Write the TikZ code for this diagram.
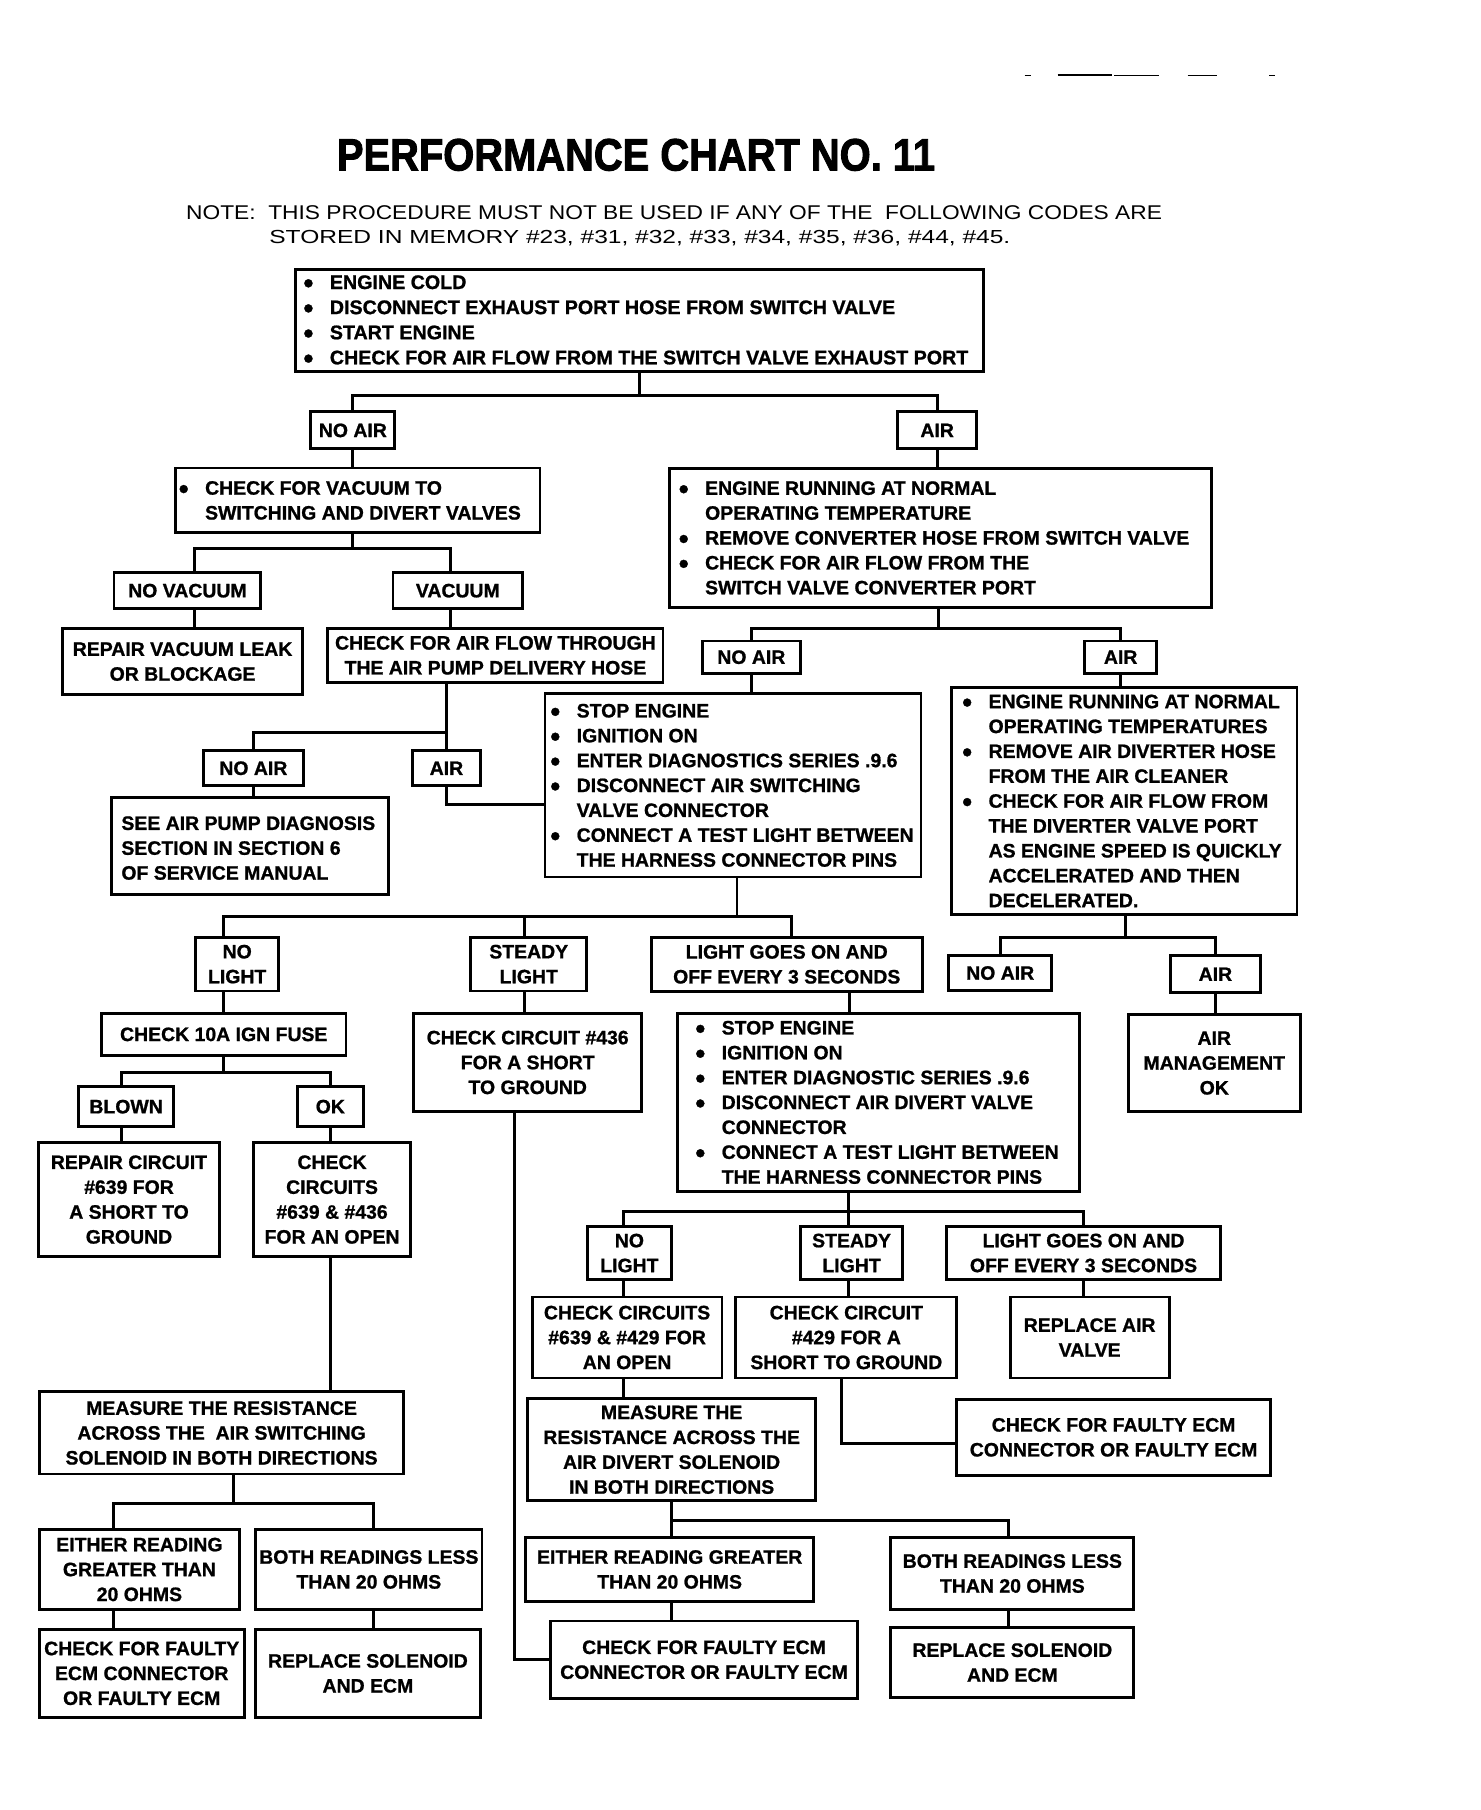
\documentclass[tikz,border=0pt]{standalone}
\usepackage{fontspec}
\setmainfont{Liberation Sans}[BoldFeatures={FakeBold=1.0}]
\newfontfamily\titlefont{Liberation Sans Bold}[FakeBold=2.2]
\usepackage{graphicx}
\newcommand\bxfont{\bfseries\fontsize{16.8}{21.5}\selectfont}
\newcommand\bl{\makebox[0pt][c]{\raisebox{-3.2pt}{\scalebox{1.45}{\textbullet}}}\hspace*{18.5pt}}
\newcommand\ind{\hspace*{18.5pt}}
\begin{document}
\begin{tikzpicture}[x=1pt,y=-1pt,
  bx/.style={draw, line width=2.5pt, inner sep=0pt, align=center, font=\bxfont},
  tx/.style={inner sep=0pt, align=left, font=\bxfont, anchor=west},
  ln/.style={line width=2.5pt},
  dsh/.style={line width=1.2pt}]
\useasboundingbox (0,0) rectangle (1280,1564.4);
% stray marks at top
\draw[dsh] (885.5,65) -- (891,65);
\draw[dsh,line width=1.6pt] (914,65) -- (961,65);
\draw[dsh] (963,65) -- (1002,65);
\draw[dsh] (1026.5,65) -- (1052,65);
\draw[dsh] (1097,65) -- (1102,65);
% title and note
\node[anchor=base west, inner sep=0pt] (title) at (291,147.3) {\resizebox{517pt}{27.3pt}{\titlefont PERFORMANCE CHART NO. 11}};
\node[anchor=base west, inner sep=0pt] (note1) at (160.7,189.4) {\resizebox{843.3pt}{12pt}{NOTE:\ \ THIS PROCEDURE MUST NOT BE USED IF ANY OF THE\ \ FOLLOWING CODES ARE}};
\node[anchor=base west, inner sep=0pt] (note2) at (232.6,210.3) {\resizebox{640.4pt}{11.4pt}{STORED IN MEMORY \#23, \#31, \#32, \#33, \#34, \#35, \#36, \#44, \#45.}};
% boxes
\node[bx, minimum width=594.9pt, minimum height=88pt] (B1) at (552.9,277) {};
\node[tx, font=\bfseries\fontsize{17}{21.7}\selectfont] (B1t) at ([xshift=12.2pt,yshift=-1pt]B1.west) {\bl ENGINE COLD\\ \bl DISCONNECT EXHAUST PORT HOSE FROM SWITCH VALVE\\ \bl START ENGINE\\ \bl CHECK FOR AIR FLOW FROM THE SWITCH VALVE EXHAUST PORT};
\node[bx, minimum width=72.6pt, minimum height=32pt] (nA1) at (305,372) {NO AIR};
\node[bx, minimum width=68.7pt, minimum height=32pt] (A1) at (810,372) {AIR};
\node[bx, minimum width=314.7pt, minimum height=56pt] (B2) at (309.4,432.5) {};
\node[tx] (B2t) at ([xshift=7.8pt]B2.west) {\bl CHECK FOR VACUUM TO\\ \ind SWITCHING AND DIVERT VALVES};
\node[bx, minimum width=127pt, minimum height=31.5pt] (nV) at (162,510.5) {NO VACUUM};
\node[bx, minimum width=112pt, minimum height=31.5pt] (V) at (395.7,510.5) {VACUUM};
\node[bx, minimum width=208pt, minimum height=57.5pt] (RV) at (157.8,571.8) {REPAIR VACUUM LEAK\\OR BLOCKAGE};
\node[bx, minimum width=289.6pt, minimum height=46.8pt] (CF) at (428.2,566.4) {CHECK FOR AIR FLOW THROUGH\\THE AIR PUMP DELIVERY HOSE};
\node[bx, minimum width=86pt, minimum height=30pt] (nA2) at (219,664) {NO AIR};
\node[bx, minimum width=58.1pt, minimum height=30pt] (A2) at (385.9,664) {AIR};
\node[bx, minimum width=239.4pt, minimum height=84pt] (SP) at (216.3,731) {};
\node[tx] (SPt) at ([xshift=9.4pt,yshift=-2pt]SP.west) {SEE AIR PUMP DIAGNOSIS\\SECTION IN SECTION 6\\OF SERVICE MANUAL};
\node[bx, minimum width=468pt, minimum height=120.3pt] (B3) at (813,464.9) {};
\node[tx] (B3t) at ([xshift=13pt]B3.west) {\bl ENGINE RUNNING AT NORMAL\\ \ind OPERATING TEMPERATURE\\ \bl REMOVE CONVERTER HOSE FROM SWITCH VALVE\\ \bl CHECK FOR AIR FLOW FROM THE\\ \ind SWITCH VALVE CONVERTER PORT};
\node[bx, minimum width=84.7pt, minimum height=28pt] (nA3) at (649.4,568) {NO AIR};
\node[bx, minimum width=62.2pt, minimum height=28pt] (A3) at (968.6,568) {AIR};
\node[bx, minimum width=325pt, minimum height=158.4pt] (B4) at (633.5,678.8) {};
\node[tx] (B4t) at ([xshift=10pt]B4.west) {\bl STOP ENGINE\\ \bl IGNITION ON\\ \bl ENTER DIAGNOSTICS SERIES .9.6\\ \bl DISCONNECT AIR SWITCHING\\ \ind VALVE CONNECTOR\\ \bl CONNECT A TEST LIGHT BETWEEN\\ \ind THE HARNESS CONNECTOR PINS};
\node[bx, minimum width=299pt, minimum height=196.5pt] (B5) at (971.5,692.3) {};
\node[tx] (B5t) at ([xshift=15pt]B5.west) {\bl ENGINE RUNNING AT NORMAL\\ \ind OPERATING TEMPERATURES\\ \bl REMOVE AIR DIVERTER HOSE\\ \ind FROM THE AIR CLEANER\\ \bl CHECK FOR AIR FLOW FROM\\ \ind THE DIVERTER VALVE PORT\\ \ind AS ENGINE SPEED IS QUICKLY\\ \ind ACCELERATED AND THEN\\ \ind DECELERATED.};
\node[bx, minimum width=89pt, minimum height=30pt] (nA4) at (864.5,841) {NO AIR};
\node[bx, minimum width=78pt, minimum height=32pt] (A4) at (1050.5,842) {AIR};
\node[bx, minimum width=149pt, minimum height=83.5pt] (AM) at (1049.5,918.8) {AIR\\MANAGEMENT\\OK};
\node[bx, minimum width=72pt, minimum height=46.5pt] (nL1) at (205,833.3) {NO\\LIGHT};
\node[bx, minimum width=100pt, minimum height=46.5pt] (sL1) at (457,833.3) {STEADY\\LIGHT};
\node[bx, minimum width=234pt, minimum height=47pt] (LG1) at (680,833.5) {LIGHT GOES ON AND\\OFF EVERY 3 SECONDS};
\node[bx, minimum width=211.3pt, minimum height=36pt] (F) at (193.4,894) {CHECK 10A IGN FUSE};
\node[bx, minimum width=82pt, minimum height=35pt] (bw) at (109,956.5) {BLOWN};
\node[bx, minimum width=57pt, minimum height=35pt] (ok) at (285.5,956.5) {OK};
\node[bx, minimum width=157pt, minimum height=98pt] (RC) at (111.5,1036.8) {REPAIR CIRCUIT\\\#639 FOR\\A SHORT TO\\GROUND};
\node[bx, minimum width=136pt, minimum height=98pt] (CC) at (287,1036.8) {CHECK\\CIRCUITS\\\#639 \& \#436\\FOR AN OPEN};
\node[bx, minimum width=315pt, minimum height=71pt] (M1) at (191.5,1238.5) {MEASURE THE RESISTANCE\\ACROSS THE\ \ AIR SWITCHING\\SOLENOID IN BOTH DIRECTIONS};
\node[bx, minimum width=173pt, minimum height=69pt] (E1) at (120.5,1356.5) {EITHER READING\\GREATER THAN\\20 OHMS};
\node[bx, minimum width=195.6pt, minimum height=69pt] (BL1) at (318.8,1356.5) {BOTH READINGS LESS\\THAN 20 OHMS};
\node[bx, minimum width=177pt, minimum height=75.5pt] (CE1) at (122.5,1446.3) {CHECK FOR FAULTY\\ECM CONNECTOR\\OR FAULTY ECM};
\node[bx, minimum width=194pt, minimum height=75.5pt] (RS1) at (318,1446.3) {REPLACE SOLENOID\\AND ECM};
\node[bx, minimum width=197pt, minimum height=84.5pt] (SC) at (456.1,918.3) {CHECK CIRCUIT \#436\\FOR A SHORT\\TO GROUND};
\node[bx, minimum width=347.5pt, minimum height=153.6pt] (B6) at (759.3,952.8) {};
\node[tx] (B6t) at ([xshift=20.8pt]B6.west) {\bl STOP ENGINE\\ \bl IGNITION ON\\ \bl ENTER DIAGNOSTIC SERIES .9.6\\ \bl DISCONNECT AIR DIVERT VALVE\\ \ind CONNECTOR\\ \bl CONNECT A TEST LIGHT BETWEEN\\ \ind THE HARNESS CONNECTOR PINS};
\node[bx, minimum width=72pt, minimum height=46pt] (nL2) at (544,1083) {NO\\LIGHT};
\node[bx, minimum width=88pt, minimum height=46pt] (sL2) at (736,1083) {STEADY\\LIGHT};
\node[bx, minimum width=237pt, minimum height=46pt] (LG2) at (936.5,1083) {LIGHT GOES ON AND\\OFF EVERY 3 SECONDS};
\node[bx, minimum width=164pt, minimum height=70pt] (CC2) at (542,1156) {CHECK CIRCUITS\\\#639 \& \#429 FOR\\AN OPEN};
\node[bx, minimum width=191pt, minimum height=70pt] (CC3) at (731.5,1156) {CHECK CIRCUIT\\\#429 FOR A\\SHORT TO GROUND};
\node[bx, minimum width=137.5pt, minimum height=70pt] (RA) at (941.8,1156) {REPLACE AIR\\VALVE};
\node[bx, minimum width=249pt, minimum height=88pt] (M2) at (580.5,1253) {MEASURE THE\\RESISTANCE ACROSS THE\\AIR DIVERT SOLENOID\\IN BOTH DIRECTIONS};
\node[bx, minimum width=271pt, minimum height=65.4pt] (CE3) at (962.5,1242.3) {CHECK FOR FAULTY ECM\\CONNECTOR OR FAULTY ECM};
\node[bx, minimum width=248.5pt, minimum height=55pt] (E2) at (578.8,1356.5) {EITHER READING GREATER\\THAN 20 OHMS};
\node[bx, minimum width=210pt, minimum height=62pt] (BL2) at (875,1360) {BOTH READINGS LESS\\THAN 20 OHMS};
\node[bx, minimum width=265pt, minimum height=67pt] (CE2) at (608.5,1434.5) {CHECK FOR FAULTY ECM\\CONNECTOR OR FAULTY ECM};
\node[bx, minimum width=210pt, minimum height=60pt] (RS2) at (875,1437) {REPLACE SOLENOID\\AND ECM};
% junctions and guides
\coordinate (j1) at (552.4,342);
\coordinate (j2) at (305,474);
\coordinate (g2) at (168.4,0);
\coordinate (g3) at (389.4,0);
\coordinate (j3) at (386,633);
\coordinate (j4) at (811,543.5);
\coordinate (j5) at (972.5,810.6);
\coordinate (j6) at (637,792);
\coordinate (j6b) at (453.4,792);
\coordinate (g8) at (684,0);
\coordinate (j7) at (193.4,927);
\coordinate (g9) at (105,0);
\coordinate (j8) at (202,1299.6);
\coordinate (g10) at (98,0);
\coordinate (g11) at (323,0);
\coordinate (g12) at (444.4,0);
\coordinate (g13) at (734,0);
\coordinate (j9) at (733,1047);
\coordinate (g14) at (539,0);
\coordinate (g15) at (727.5,0);
\coordinate (j10) at (580,1314);
\coordinate (g16) at (871.6,0);
% connectors
\draw[ln] (B1.south -| j1) -- (j1);
\draw[ln] (nA1.north) |- (j1) -| (A1.north);
\draw[ln] (nA1.south) -- (nA1.south |- B2.north);
\draw[ln] (B2.south -| j2) -- (j2);
\draw[ln] (nV.north -| g2) |- (j2) -| (V.north -| g3);
\draw[ln] (nV.south -| g2) -- (RV.north -| g2);
\draw[ln] (V.south -| g3) -- (CF.north -| g3);
\draw[ln] (CF.south -| j3) -- (A2.north -| j3);
\draw[ln] (nA2.north) |- (j3);
\draw[ln] (nA2.south) -- (nA2.south |- SP.north);
\draw[ln] (A2.south -| j3) |- ([yshift=-16.7pt]B4.west);
\draw[ln] (A1.south) -- (A1.south |- B3.north);
\draw[ln] (B3.south -| j4) -- (j4);
\draw[ln] (nA3.north) |- (j4) -| (A3.north);
\draw[ln] (nA3.south) -- (nA3.south |- B4.north);
\draw[ln] (A3.south) -- (A3.south |- B5.north);
\draw[ln] (B5.south -| j5) -- (j5);
\draw[ln] (nA4.north) |- (j5) -| (A4.north);
\draw[ln] (A4.south) -- (A4.south |- AM.north);
\draw[ln] (B4.south -| j6) -- (j6);
\draw[ln] (nL1.north -| F) |- (j6) -| (LG1.north -| g8);
\draw[ln] (sL1.north -| j6b) -- (j6b);
\draw[ln] (nL1.south -| F) -- (F.north);
\draw[ln] (F.south) -- (j7);
\draw[ln] (bw.north -| g9) |- (j7) -| (ok.north);
\draw[ln] (bw.south -| g9) -- (RC.north -| g9);
\draw[ln] (ok.south) -- (ok.south |- CC.north);
\draw[ln] (CC.south -| ok) -- (M1.north -| ok);
\draw[ln] (M1.south -| j8) -- (j8);
\draw[ln] (E1.north -| g10) |- (j8) -| (BL1.north -| g11);
\draw[ln] (E1.south -| g10) -- (CE1.north -| g10);
\draw[ln] (BL1.south -| g11) -- (RS1.north -| g11);
\draw[ln] (sL1.south -| j6b) -- (SC.north -| j6b);
\draw[ln] (SC.south -| g12) |- (CE2.west);
\draw[ln] (LG1.south -| g13) -- (B6.north -| g13);
\draw[ln] (B6.south -| j9) -- (j9);
\draw[ln] (nL2.north -| g14) |- (j9) -| (LG2.north);
\draw[ln] (j9) -- (sL2.north -| j9);
\draw[ln] (nL2.south -| g14) -- (CC2.north -| g14);
\draw[ln] (CC2.south -| g14) -- (M2.north -| g14);
\draw[ln] (sL2.south -| j9) -- (CC3.north -| j9);
\draw[ln] (LG2.south) -- (LG2.south |- RA.north);
\draw[ln] (CC3.south -| g15) |- ([yshift=-5.2pt]CE3.west);
\draw[ln] (M2.south -| j10) -- (j10) -| (BL2.north -| g16);
\draw[ln] (j10) -- (E2.north -| j10);
\draw[ln] (E2.south -| j10) -- (CE2.north -| j10);
\draw[ln] (BL2.south -| g16) -- (RS2.north -| g16);
\end{tikzpicture}
\end{document}
